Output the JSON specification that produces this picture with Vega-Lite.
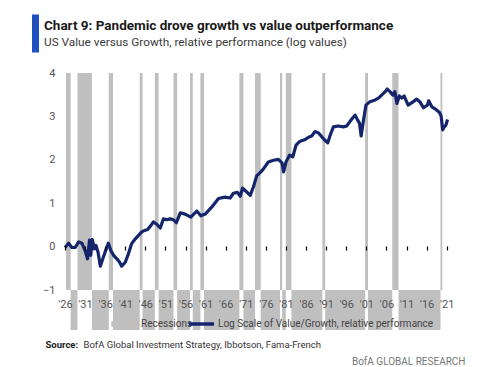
{
  "$schema": "https://vega.github.io/schema/vega-lite/v6.json",
  "width": 397,
  "height": 257,
  "autosize": {"type": "none"},
  "padding": {"left": 65, "top": 73, "right": 38, "bottom": 37},
  "background": "white",
  "config": {"view": {"stroke": null}, "font": "Roboto"},
  "title": {
    "text": "Chart 9: Pandemic drove growth vs value outperformance",
    "subtitle": "US Value versus Growth, relative performance (log values)",
    "anchor": "start",
    "frame": "group",
    "dx": -21,
    "offset": -38,
    "font": "Roboto",
    "fontSize": 13.5,
    "fontWeight": "bold",
    "color": "#1a1a1a",
    "subtitleFont": "Roboto",
    "subtitleFontSize": 11.8,
    "subtitleColor": "#3a3a3a",
    "subtitlePadding": 5
  },
  "datasets": {
    "rec": [
      {"start": 1926.25, "end": 1927.4},
      {"start": 1929.1, "end": 1932.7},
      {"start": 1936.9, "end": 1937.95},
      {"start": 1944.6, "end": 1945.3},
      {"start": 1948.35, "end": 1949.3},
      {"start": 1953.0, "end": 1953.9},
      {"start": 1957.1, "end": 1957.8},
      {"start": 1959.7, "end": 1960.6},
      {"start": 1969.4, "end": 1970.4},
      {"start": 1973.3, "end": 1974.7},
      {"start": 1979.5, "end": 1980.05},
      {"start": 1980.95, "end": 1982.35},
      {"start": 1990.05, "end": 1990.75},
      {"start": 2000.7, "end": 2001.4},
      {"start": 2007.45, "end": 2009.0},
      {"start": 2019.45, "end": 2019.9}
    ],
    "exp": [
      {"start": 1927.4, "end": 1929.1},
      {"start": 1932.7, "end": 1936.9},
      {"start": 1937.95, "end": 1944.6},
      {"start": 1945.3, "end": 1948.35},
      {"start": 1949.3, "end": 1953.0},
      {"start": 1953.9, "end": 1957.1},
      {"start": 1957.8, "end": 1959.7},
      {"start": 1960.6, "end": 1969.4},
      {"start": 1970.4, "end": 1973.3},
      {"start": 1974.7, "end": 1979.5},
      {"start": 1980.05, "end": 1980.95},
      {"start": 1982.35, "end": 1990.05},
      {"start": 1990.75, "end": 2000.7},
      {"start": 2001.4, "end": 2007.45},
      {"start": 2009.0, "end": 2019.45}
    ],
    "series": [
      {"year": 1926.0, "value": -0.02},
      {"year": 1926.9, "value": 0.08},
      {"year": 1927.7, "value": -0.02},
      {"year": 1928.5, "value": -0.02},
      {"year": 1929.4, "value": 0.11},
      {"year": 1930.2, "value": 0.08},
      {"year": 1931.0, "value": -0.09},
      {"year": 1931.6, "value": -0.28},
      {"year": 1932.1, "value": 0.15},
      {"year": 1932.4, "value": -0.2},
      {"year": 1932.8, "value": 0.16},
      {"year": 1933.3, "value": -0.05},
      {"year": 1933.7, "value": 0.03},
      {"year": 1934.2, "value": -0.12},
      {"year": 1934.8, "value": -0.45},
      {"year": 1935.4, "value": -0.28},
      {"year": 1936.0, "value": -0.12},
      {"year": 1936.8, "value": 0.08},
      {"year": 1937.4, "value": -0.09},
      {"year": 1938.1, "value": -0.2},
      {"year": 1938.9, "value": -0.28},
      {"year": 1939.6, "value": -0.36},
      {"year": 1940.1, "value": -0.45},
      {"year": 1941.0, "value": -0.36},
      {"year": 1941.8, "value": -0.16},
      {"year": 1942.6, "value": 0.07},
      {"year": 1943.5, "value": 0.18},
      {"year": 1944.3, "value": 0.26},
      {"year": 1945.1, "value": 0.34},
      {"year": 1946.0, "value": 0.38},
      {"year": 1946.5, "value": 0.39},
      {"year": 1947.4, "value": 0.49},
      {"year": 1948.0, "value": 0.57},
      {"year": 1948.9, "value": 0.51},
      {"year": 1949.7, "value": 0.43},
      {"year": 1950.5, "value": 0.64},
      {"year": 1951.3, "value": 0.62},
      {"year": 1952.2, "value": 0.64},
      {"year": 1953.0, "value": 0.62},
      {"year": 1953.7, "value": 0.55},
      {"year": 1954.7, "value": 0.78},
      {"year": 1955.9, "value": 0.75},
      {"year": 1957.3, "value": 0.68},
      {"year": 1958.8, "value": 0.82},
      {"year": 1959.8, "value": 0.71},
      {"year": 1960.9, "value": 0.75},
      {"year": 1962.5, "value": 0.91},
      {"year": 1964.2, "value": 1.11},
      {"year": 1965.8, "value": 1.14},
      {"year": 1967.1, "value": 1.12},
      {"year": 1967.9, "value": 1.23},
      {"year": 1968.9, "value": 1.25},
      {"year": 1969.6, "value": 1.16},
      {"year": 1970.2, "value": 1.35},
      {"year": 1971.1, "value": 1.27},
      {"year": 1972.1, "value": 1.18},
      {"year": 1972.9, "value": 1.38},
      {"year": 1973.7, "value": 1.63},
      {"year": 1974.5, "value": 1.7},
      {"year": 1975.3, "value": 1.78},
      {"year": 1976.6, "value": 1.95},
      {"year": 1977.9, "value": 1.99},
      {"year": 1979.1, "value": 2.01},
      {"year": 1980.0, "value": 1.93},
      {"year": 1980.4, "value": 1.72},
      {"year": 1981.0, "value": 1.95},
      {"year": 1981.9, "value": 2.11},
      {"year": 1982.7, "value": 2.07},
      {"year": 1983.5, "value": 2.34},
      {"year": 1984.5, "value": 2.43},
      {"year": 1985.8, "value": 2.47},
      {"year": 1986.6, "value": 2.52},
      {"year": 1987.4, "value": 2.55},
      {"year": 1988.2, "value": 2.65},
      {"year": 1989.1, "value": 2.62},
      {"year": 1989.9, "value": 2.53},
      {"year": 1990.7, "value": 2.45},
      {"year": 1991.4, "value": 2.39},
      {"year": 1992.0, "value": 2.57},
      {"year": 1992.8, "value": 2.76},
      {"year": 1994.0, "value": 2.78},
      {"year": 1995.3, "value": 2.76},
      {"year": 1996.1, "value": 2.78},
      {"year": 1996.9, "value": 2.88},
      {"year": 1998.2, "value": 3.03},
      {"year": 1998.8, "value": 2.92},
      {"year": 1999.3, "value": 2.84},
      {"year": 1999.7, "value": 2.55},
      {"year": 2000.3, "value": 2.92},
      {"year": 2000.9, "value": 3.26},
      {"year": 2001.9, "value": 3.34},
      {"year": 2003.2, "value": 3.38},
      {"year": 2004.0, "value": 3.42},
      {"year": 2004.8, "value": 3.49},
      {"year": 2005.7, "value": 3.57},
      {"year": 2006.2, "value": 3.63},
      {"year": 2006.9, "value": 3.57},
      {"year": 2007.6, "value": 3.49},
      {"year": 2008.1, "value": 3.57},
      {"year": 2008.6, "value": 3.3},
      {"year": 2009.2, "value": 3.47},
      {"year": 2009.8, "value": 3.42},
      {"year": 2010.4, "value": 3.47},
      {"year": 2011.4, "value": 3.26},
      {"year": 2012.7, "value": 3.34},
      {"year": 2013.5, "value": 3.4},
      {"year": 2014.3, "value": 3.34},
      {"year": 2015.2, "value": 3.2},
      {"year": 2016.2, "value": 3.26},
      {"year": 2016.5, "value": 3.36},
      {"year": 2017.3, "value": 3.22},
      {"year": 2018.3, "value": 3.16},
      {"year": 2019.2, "value": 3.09},
      {"year": 2019.6, "value": 3.01},
      {"year": 2020.0, "value": 2.69},
      {"year": 2020.4, "value": 2.76},
      {"year": 2020.8, "value": 2.8},
      {"year": 2021.2, "value": 2.93}
    ]
  },
  "resolve": {"axis": {"x": "independent"}},
  "layer": [
    {
      "data": {"name": "rec"},
      "mark": {"type": "rect"},
      "encoding": {
        "x": {
          "field": "start", "type": "quantitative",
          "scale": {"domain": [1926, 2024.8], "nice": false, "zero": false},
          "axis": {
            "orient": "bottom", "offset": -84,
            "values": [1926, 1931, 1936, 1941, 1946, 1951, 1956, 1961, 1966, 1971, 1976, 1981, 1986, 1991, 1996, 2001, 2006, 2011, 2016, 2021],
            "domain": false, "ticks": true, "tickColor": "#000000", "tickSize": 4, "tickWidth": 1.2,
            "labels": false, "grid": false, "zindex": 1,
            "title": "BofA GLOBAL RESEARCH",
            "titleX": 400, "titleY": 118, "titleAlign": "right", "titleBaseline": "alphabetic",
            "titleFontSize": 10, "titleFontWeight": "normal", "titleColor": "#777777"
          }
        },
        "x2": {"field": "end"},
        "y": {"datum": 4},
        "y2": {"datum": -1},
        "color": {
          "datum": "Recessions",
          "scale": {"range": ["#bfbfbf"]},
          "legend": {
            "orient": "none", "legendX": 44, "legendY": 246, "title": null, "padding": 0,
            "symbolType": "square", "symbolSize": 30, "symbolStrokeWidth": 0,
            "labelFontSize": 10, "labelColor": "#444444", "labelOffset": 22
          }
        }
      }
    },
    {
      "data": {"name": "exp"},
      "mark": {"type": "rect", "color": "#bfbfbf"},
      "encoding": {
        "x": {"field": "start", "type": "quantitative", "scale": {"domain": [1926, 2024.8], "nice": false, "zero": false}, "axis": null},
        "x2": {"field": "end"},
        "y": {"datum": -1},
        "y2": {"datum": -1.92}
      }
    },
    {
      "mark": {"type": "rule", "color": "#000000", "strokeWidth": 1.3},
      "encoding": {
        "y": {"datum": 0},
        "strokeDash": {
          "datum": "chart",
          "scale": {"range": [[1, 0]]},
          "legend": {
            "orient": "none", "legendX": -52, "legendY": -62, "title": null, "padding": 0,
            "symbolType": "M0,-1V1", "symbolSize": 1444, "symbolStrokeWidth": 7,
            "symbolStrokeColor": "#1f50c0", "symbolDash": [1, 0],
            "labelFontSize": 0, "labelExpr": "''", "labelOffset": 0
          }
        }
      }
    },
    {
      "data": {"name": "series"},
      "mark": {"type": "line", "strokeWidth": 3.2, "strokeJoin": "round"},
      "encoding": {
        "x": {
          "field": "year", "type": "quantitative",
          "scale": {"domain": [1926, 2024.8], "nice": false, "zero": false},
          "axis": {
            "orient": "bottom", "offset": -33,
            "values": [1926, 1931, 1936, 1941, 1946, 1951, 1956, 1961, 1966, 1971, 1976, 1981, 1986, 1991, 1996, 2001, 2006, 2011, 2016, 2021],
            "format": "d",
            "labelExpr": "\"'\" + substring(datum.label, 2)",
            "domain": false, "ticks": false, "grid": false, "zindex": 1,
            "labelPadding": 1, "labelFontSize": 11, "labelColor": "#555555",
            "labelFlush": false, "labelOverlap": false,
            "title": "BofA Global Investment Strategy, Ibbotson, Fama-French",
            "titleX": 18, "titleY": 50, "titleAlign": "left", "titleBaseline": "alphabetic",
            "titleFontSize": 9.5, "titleFontWeight": "normal", "titleColor": "#333333"
          }
        },
        "y": {
          "field": "value", "type": "quantitative",
          "scale": {"domain": [-1.92, 4], "nice": false, "zero": false},
          "axis": {
            "values": [-1, 0, 1, 2, 3, 4],
            "domain": false, "ticks": false, "grid": false,
            "labelPadding": 10, "labelFontSize": 11, "labelColor": "#555555",
            "title": "Source:", "titleAngle": 0, "titleX": -20, "titleY": 274,
            "titleAlign": "left", "titleBaseline": "alphabetic",
            "titleFontSize": 9.5, "titleFontWeight": "bold", "titleColor": "#222222"
          }
        },
        "stroke": {
          "datum": "Log Scale of Value/Growth, relative performance",
          "scale": {"range": ["#14256b"]},
          "legend": {
            "orient": "none", "legendX": 122, "legendY": 236.5, "title": null, "padding": 0,
            "symbolType": "stroke", "symbolSize": 625, "symbolStrokeWidth": 3.5,
            "labelFontSize": 10, "labelColor": "#444444", "labelOffset": 2, "labelLimit": 400
          }
        }
      }
    }
  ]
}
